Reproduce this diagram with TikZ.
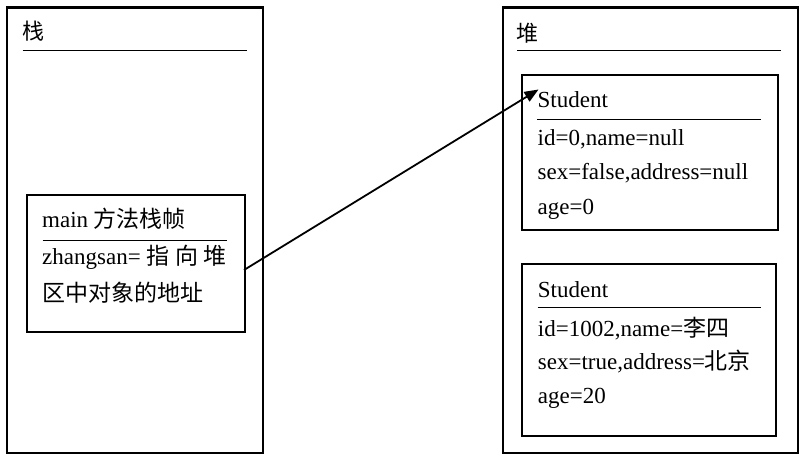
\documentclass[tikz,border=0pt]{standalone}
\usepackage{fontspec}
\setmainfont{Liberation Serif}
\newfontfamily\cjk{Noto Sans CJK SC}
\newcommand\zh[1]{{\cjk #1}}
\usetikzlibrary{arrows.meta}
\begin{document}
\begin{tikzpicture}[x=1pt,y=-1pt,
  outerbox/.style={draw,line width=2.4pt,inner sep=0pt,anchor=north west},
  innerbox/.style={draw,line width=2pt,inner sep=0pt,anchor=north west},
  sep/.style={line width=1pt},
  txt/.style={inner sep=0pt,anchor=base west,font=\fontsize{23}{26}\selectfont},
  ttl/.style={inner sep=0pt,anchor=west,font=\fontsize{22}{24}\selectfont\cjk},
  ptr/.style={line width=1.8pt,-{Triangle[length=14pt,width=11pt]}}]
\useasboundingbox (0,0) rectangle (805,462);
% outer boxes
\node[outerbox,minimum width=256pt,minimum height=445pt] (stack) at (5.5,6.5) {};
\node[outerbox,minimum width=295pt,minimum height=445pt] (heap) at (501.5,6.5) {};
\node[ttl] (stacktitle) at (22.5,31.5) {栈};
\node[ttl] (heaptitle) at (516.5,33) {堆};
\draw[sep] (22.7,51) -- (246.7,51);
\draw[sep] (517.3,50.7) -- (781,50.7);
% main frame
\node[innerbox,minimum width=217.5pt,minimum height=136pt] (main) at (26,194.5) {};
\draw[sep] (42.7,240.7) -- (226.7,240.7);
\node[txt] (m1) at (42,228) {main \zh{方法栈帧}};
\node[txt] (m2) at (42,265) {zhangsan= \zh{指}\ \zh{向}\ \zh{堆}};
\node[txt] (m3) at (42,301) {\zh{区中对象的地址}};
% student 1
\node[innerbox,minimum width=256pt,minimum height=154.7pt] (s1) at (521.3,74) {};
\draw[sep] (537.3,120) -- (761,120);
\node[txt] (s1a) at (537.5,108) {Student};
\node[txt] (s1b) at (537.5,146) {id=0,name=null};
\node[txt] (s1c) at (537.5,180) {sex=false,address=null};
\node[txt] (s1d) at (537.5,215) {age=0};
% student 2
\node[innerbox,minimum width=254pt,minimum height=171.5pt] (s2) at (521,263) {};
\draw[sep] (537.7,307.7) -- (761,307.7);
\node[txt] (s2a) at (537.7,297) {Student};
\node[txt] (s2b) at (537.7,336) {id=1002,name=\zh{李四}};
\node[txt] (s2c) at (537.7,369) {sex=true,address=\zh{北京}};
\node[txt] (s2d) at (537.7,403) {age=20};
% pointer
\coordinate (from) at (244,270);
\coordinate (to) at (538.5,89.5);
\draw[ptr] (from) -- (to);
\end{tikzpicture}
\end{document}
